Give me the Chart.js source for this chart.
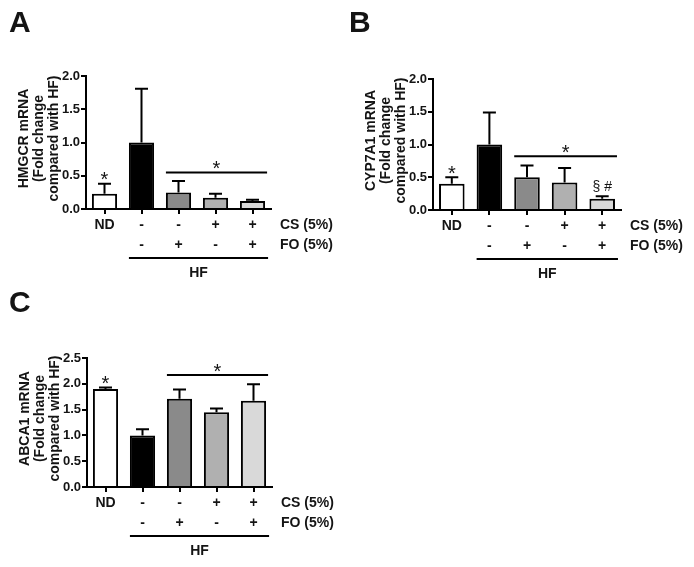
<!DOCTYPE html>
<html>
<head>
<meta charset="utf-8">
<script src="https://cdn.jsdelivr.net/npm/chart.js@4/dist/chart.umd.min.js"></script>
<style>
  body { margin: 0; background: #fff; width: 694px; height: 567px; position: relative; overflow: hidden; }
  canvas { position: absolute; }
</style>
</head>
<body>
<canvas id="chartA" width="340" height="280" style="left:0;top:0"></canvas>
<canvas id="chartB" width="354" height="280" style="left:340px;top:0"></canvas>
<canvas id="chartC" width="340" height="287" style="left:0;top:280px"></canvas>
<script>
// group labels under the bars
var csRow = ['ND', '-', '-', '+', '+'];
var foRow = ['', '-', '+', '-', '+'];
var rowNames = ['CS (5%)', 'FO (5%)'];
var groupName = 'HF';
var barColors = ['#ffffff', '#000000', '#8a8a8a', '#b0b0b0', '#d9d9d9'];

// mean and SEM (fold change compared with HF)
var hmgcrMean = [0.23, 1.00, 0.25, 0.17, 0.12];
var hmgcrSem  = [0.15, 0.81, 0.17, 0.06, 0.02];
var cyp7a1Mean = [0.40, 1.00, 0.50, 0.42, 0.17];
var cyp7a1Sem  = [0.10, 0.49, 0.18, 0.22, 0.04];
var abca1Mean = [1.90, 1.00, 1.71, 1.45, 1.67];
var abca1Sem  = [0.03, 0.12, 0.18, 0.07, 0.32];

// height of the "*" line over the treated groups
var hmgcrSigLine = 0.55;
var cyp7a1SigLine = 0.82;
var abca1SigLine = 2.17;

var FONT = '"Liberation Sans", Arial, Helvetica, sans-serif';
var INK = '#141414';
Chart.defaults.font.family = FONT;
Chart.defaults.color = INK;

var labels = csRow.map(function (c, i) { return [c, foRow[i]]; });

var panelPlugin = {
  id: 'panel',
  afterDatasetsDraw: function (chart, args, p) {
    var ctx = chart.ctx, xs = chart.scales.x, ys = chart.scales.y, area = chart.chartArea;
    var bars = chart.getDatasetMeta(0).data;
    ctx.save();
    ctx.strokeStyle = '#000';
    ctx.fillStyle = INK;
    ctx.lineWidth = 2;

    // upper error bars
    bars.forEach(function (bar, i) {
      var yTop = ys.getPixelForValue(p.mean[i] + p.sem[i]);
      ctx.beginPath();
      ctx.moveTo(bar.x, bar.y);
      ctx.lineTo(bar.x, yTop);
      ctx.moveTo(bar.x - 6.5, yTop);
      ctx.lineTo(bar.x + 6.5, yTop);
      ctx.stroke();
    });

    var half = bars[0].width / 2;
    ctx.font = '20px ' + FONT;
    ctx.textAlign = 'center';
    ctx.textBaseline = 'alphabetic';

    // * over ND
    var ndCap = ys.getPixelForValue(p.mean[0] + p.sem[0]);
    ctx.fillText('*', bars[0].x, ndCap + 2.5);

    // * line over treated HF groups
    var ly = ys.getPixelForValue(p.sig);
    var lx1 = xs.getPixelForValue(2) - half, lx2 = xs.getPixelForValue(4) + half + 2;
    ctx.beginPath();
    ctx.moveTo(lx1, ly);
    ctx.lineTo(lx2, ly);
    ctx.stroke();
    ctx.fillText('*', (lx1 + lx2) / 2, ly + 2.5);

    if (p.extra) {
      var cap = ys.getPixelForValue(p.mean[4] + p.sem[4]);
      ctx.font = '14px ' + FONT;
      ctx.fillText(p.extra, bars[4].x, cap - 5);
    }

    // row names and HF bracket
    ctx.font = 'bold 14px ' + FONT;
    ctx.textAlign = 'left';
    ctx.textBaseline = 'middle';
    ctx.fillText(rowNames[0], area.right + 9, area.bottom + 16);
    ctx.fillText(rowNames[1], area.right + 9, area.bottom + 36);
    var hx1 = xs.getPixelForValue(1) - half, hx2 = xs.getPixelForValue(4) + half + 3;
    ctx.beginPath();
    ctx.moveTo(hx1, area.bottom + 49);
    ctx.lineTo(hx2, area.bottom + 49);
    ctx.stroke();
    ctx.textAlign = 'center';
    ctx.fillText(groupName, (hx1 + hx2) / 2, area.bottom + 64);

    // y axis title, three lines
    var cy = (area.top + area.bottom) / 2 - 4;
    [-62, -47, -32].forEach(function (off, i) {
      ctx.save();
      ctx.translate(area.left + off, cy);
      ctx.rotate(-Math.PI / 2);
      ctx.fillText(p.title[i], 0, 0);
      ctx.restore();
    });

    // panel letter
    ctx.font = 'bold 30px ' + FONT;
    ctx.textAlign = 'left';
    ctx.textBaseline = 'alphabetic';
    ctx.fillText(p.letter, 9, 32);
    ctx.restore();
  }
};

function makeChart(id, p) {
  return new Chart(document.getElementById(id), {
    type: 'bar',
    data: {
      labels: labels,
      datasets: [{
        data: p.mean,
        backgroundColor: barColors,
        borderColor: '#000',
        borderWidth: 2,
        borderSkipped: 'bottom',
        barPercentage: 0.68,
        categoryPercentage: 1
      }]
    },
    options: {
      responsive: false,
      animation: false,
      layout: { padding: { left: 0, top: p.top, right: p.right, bottom: 0 } },
      plugins: { legend: { display: false }, tooltip: { enabled: false }, panel: p },
      scales: {
        x: {
          afterFit: function (s) { s.height = p.xh; },
          grid: { drawOnChartArea: false, offset: false, tickLength: 5, color: '#000', lineWidth: 2 },
          border: { color: '#000', width: 2 },
          ticks: { color: INK, padding: 1, maxRotation: 0, autoSkip: false,
                   font: { size: 14, weight: 'bold', lineHeight: 20 / 14 } }
        },
        y: {
          min: 0,
          max: p.max,
          afterFit: function (s) { s.width = p.left; },
          grid: { drawOnChartArea: false, tickLength: 5, color: '#000', lineWidth: 2 },
          border: { color: '#000', width: 2 },
          ticks: { color: INK, stepSize: 0.5, padding: 1,
                   font: { size: 13, weight: 'bold' },
                   callback: function (v) { return v.toFixed(1); } }
        }
      }
    },
    plugins: [panelPlugin]
  });
}

makeChart('chartA', {
  letter: 'A', title: ['HMGCR mRNA', '(Fold change', 'compared with HF)'],
  mean: hmgcrMean, sem: hmgcrSem, sig: hmgcrSigLine, max: 2.0,
  left: 86, top: 76, right: 69, xh: 71
});
makeChart('chartB', {
  letter: 'B', title: ['CYP7A1 mRNA', '(Fold change', 'compared with HF)'],
  mean: cyp7a1Mean, sem: cyp7a1Sem, sig: cyp7a1SigLine, max: 2.0, extra: '§ #',
  left: 93, top: 79, right: 73, xh: 70
});
makeChart('chartC', {
  letter: 'C', title: ['ABCA1 mRNA', '(Fold change', 'compared with HF)'],
  mean: abca1Mean, sem: abca1Sem, sig: abca1SigLine, max: 2.5,
  left: 87, top: 78, right: 68, xh: 80
});
</script>
</body>
</html>
